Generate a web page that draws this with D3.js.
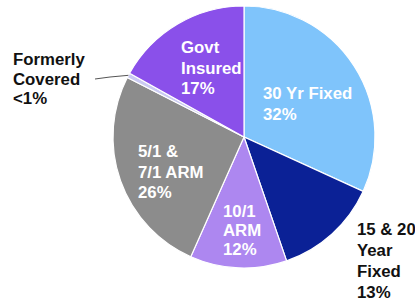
<!DOCTYPE html>
<html>
<head>
<meta charset="utf-8">
<script src="https://cdn.jsdelivr.net/npm/d3@7"></script>
<style>
  body { margin: 0; background: white; }
  svg { display: block; font-family: "Liberation Sans", Arial, sans-serif; font-weight: bold; }
</style>
</head>
<body>
<div id="chart"></div>
<script>
// data
let categories = ['30 Yr Fixed', '15 & 20 Year Fixed', '10/1 ARM', '5/1 & 7/1 ARM', 'Formerly Covered', 'Govt Insured']
let shares = [32, 13, 12, 26, 0.6, 17]
let shareLabels = ['32%', '13%', '12%', '26%', '<1%', '17%']
let labelLines = [['30 Yr Fixed'], ['15 & 20', 'Year', 'Fixed'], ['10/1', 'ARM'], ['5/1 &', '7/1 ARM'], ['Formerly', 'Covered'], ['Govt', 'Insured']]
let colors = ['#7fc4fb', '#0b2196', '#ad87f0', '#8c8c8c', '#cacaf2', '#8a50ea']

let width = 415, height = 306
let cx = 244, cy = 137, radius = 131

let svg = d3.select('#chart').append('svg')
  .attr('width', width)
  .attr('height', height)

let pie = d3.pie().sort(null).value(function(d){ return d.value })
let arc = d3.arc().innerRadius(0).outerRadius(radius)

let data = categories.map(function(c, i){
  return { name: c, value: shares[i], color: colors[i], lines: labelLines[i].concat([shareLabels[i]]) }
})
let arcs = pie(data)

let g = svg.append('g').attr('transform', 'translate(' + cx + ',' + cy + ')')

g.selectAll('path')
  .data(arcs)
  .enter().append('path')
  .attr('d', arc)
  .attr('fill', function(d){ return d.data.color })
  .attr('stroke', 'white')
  .attr('stroke-width', 1.2)

// label placement (left edge, first baseline), inside slices white, outside black
let labelPos = [
  { x: 263, y: 99, fill: 'white', dy: 21 },
  { x: 357, y: 235, fill: '#111', dy: 21 },
  { x: 223, y: 217, fill: 'white', dy: 19 },
  { x: 138, y: 157, fill: 'white', dy: 20.5 },
  { x: 13, y: 65, fill: '#111', dy: 19.5 },
  { x: 181, y: 53, fill: 'white', dy: 20.5 }
]

data.forEach(function(d, i){
  let p = labelPos[i]
  let t = svg.append('text')
    .attr('x', p.x)
    .attr('y', p.y)
    .attr('fill', p.fill)
    .style('font-size', '16.8px')
  d.lines.forEach(function(line, j){
    t.append('tspan')
      .attr('x', p.x)
      .attr('y', p.y + j * p.dy)
      .text(line)
  })
})

// leader line for the small slice
let small = arcs[4]
let mid = (small.startAngle + small.endAngle) / 2
let edge = [cx + Math.sin(mid) * radius, cy - Math.cos(mid) * radius]
svg.append('path')
  .attr('d', d3.line()([[95, 79], [110, 77], edge]))
  .attr('fill', 'none')
  .attr('stroke', '#555')
  .attr('stroke-width', 1)
</script>
</body>
</html>
